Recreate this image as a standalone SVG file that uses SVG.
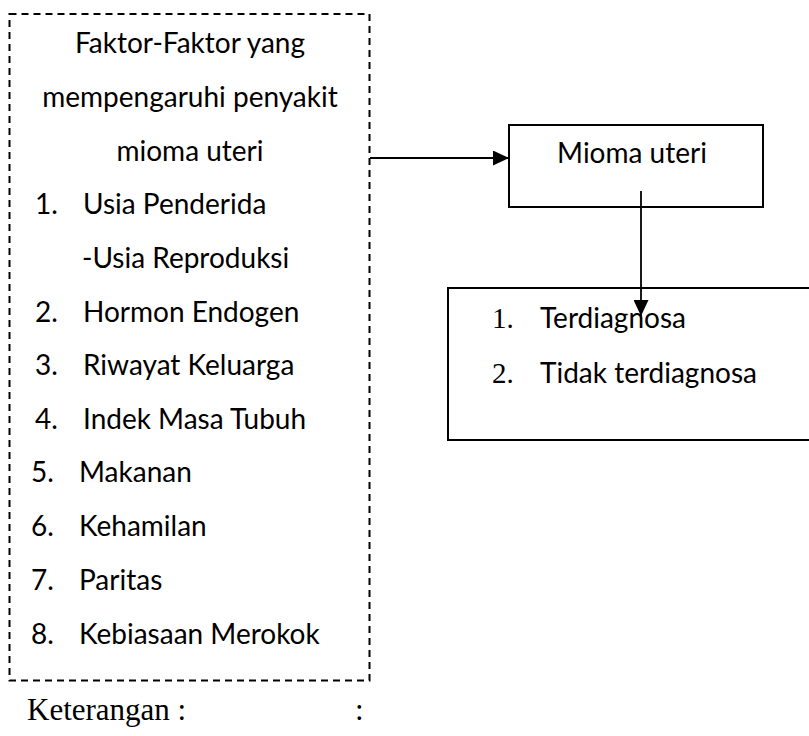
<svg xmlns="http://www.w3.org/2000/svg" width="809" height="736" viewBox="0 0 809 736">
<style>
.t{font-family:Lato,"Liberation Sans",sans-serif;font-size:28px;fill:#000}
.s{font-family:"Liberation Serif",serif;font-size:29px;fill:#000}
.k{font-family:"Liberation Serif",serif;font-size:31px;fill:#000}
.c{text-anchor:middle}
.box{fill:none;stroke:#000;stroke-width:2}
.dash{fill:none;stroke:#000;stroke-width:2;stroke-dasharray:7 5}
.ln{fill:none;stroke:#000;stroke-width:1.8}
</style>
<defs>
<marker id="ah" viewBox="0 0 16 15" refX="16" refY="7.5" markerWidth="16" markerHeight="15" markerUnits="userSpaceOnUse" orient="auto">
<path d="M0,0 L16,7.5 L0,15 Z" fill="#000"/>
</marker>
</defs>
<g id="faktor">
<rect class="dash" x="9.5" y="14" width="360" height="666.5"/>
<text class="t c" x="190" y="53">Faktor-Faktor yang</text>
<text class="t c" x="190" y="107">mempengaruhi penyakit</text>
<text class="t c" x="190" y="161">mioma uteri</text>
<text class="t" x="35" y="214">1.</text><text class="t" x="83" y="214">Usia Penderida</text>
<text class="t" x="82" y="268">-Usia Reproduksi</text>
<text class="t" x="35" y="322">2.</text><text class="t" x="83" y="322">Hormon Endogen</text>
<text class="t" x="35" y="375">3.</text><text class="t" x="83" y="375">Riwayat Keluarga</text>
<text class="t" x="35" y="429">4.</text><text class="t" x="83" y="429">Indek Masa Tubuh</text>
<text class="t" x="31" y="482">5.</text><text class="t" x="79" y="482">Makanan</text>
<text class="t" x="31" y="536">6.</text><text class="t" x="79" y="536">Kehamilan</text>
<text class="t" x="31" y="590">7.</text><text class="t" x="79" y="590">Paritas</text>
<text class="t" x="31" y="644">8.</text><text class="t" x="79" y="644">Kebiasaan Merokok</text>
</g>
<g id="mioma">
<rect class="box" x="509" y="125" width="254" height="82"/>
<text class="t c" x="632" y="163">Mioma uteri</text>
</g>
<g id="hasil">
<rect class="box" x="448" y="288" width="380" height="152"/>
<text class="s" x="492" y="328">1.</text><text class="t" x="540" y="328">Terdiagnosa</text>
<text class="s" x="492" y="383">2.</text><text class="t" x="540" y="383">Tidak terdiagnosa</text>
</g>
<g id="connectors">
<line class="ln" x1="370" y1="158" x2="509" y2="158" marker-end="url(#ah)"/>
<line class="ln" x1="641" y1="191" x2="641" y2="316" marker-end="url(#ah)"/>
</g>
<g id="keterangan">
<text class="k" x="27" y="720">Keterangan :</text>
<text class="k" x="355" y="720">:</text>
</g>
</svg>
